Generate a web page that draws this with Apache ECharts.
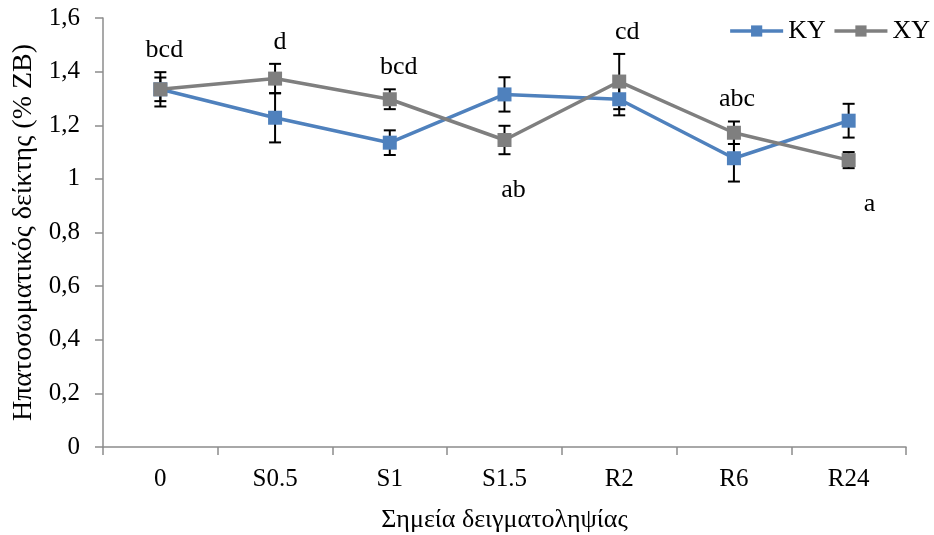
<!DOCTYPE html>
<html>
<head>
<meta charset="utf-8">
<script src="https://cdn.jsdelivr.net/npm/echarts@6.0.0/dist/echarts.min.js"></script>
<style>html,body{margin:0;padding:0;background:#fff;}#c{width:934px;height:535px;}</style>
</head>
<body>
<div id="c"></div>
<script>
const categories = ['0', 'S0.5', 'S1', 'S1.5', 'R2', 'R6', 'R24'];
const kyValues = [1.334, 1.228, 1.135, 1.315, 1.297, 1.077, 1.217];
const kyErrors = [0.044, 0.092, 0.046, 0.064, 0.060, 0.087, 0.063];
const xyValues = [1.334, 1.374, 1.297, 1.145, 1.363, 1.172, 1.070];
const xyErrors = [0.064, 0.055, 0.037, 0.053, 0.103, 0.042, 0.030];
const letters = ['bcd', 'd', 'bcd', 'ab', 'cd', 'abc', 'a'];
const letterSide = ['top', 'top', 'top', 'bottom', 'top', 'top', 'bottom'];
const yTicks = { min: 0, max: 1.6, interval: 0.2 };

const FONT = '"Liberation Serif", "DejaVu Serif", serif';
const BLUE = '#4f81bd';
const GRAY = '#7f7f7f';
const AXIS = '#8c8c8c';

function errData(vals, errs) {
  return vals.map((v, i) => [i, v, errs[i]]);
}
function errRender(params, api) {
  const x = api.value(0), v = api.value(1), e = api.value(2);
  const hi = api.coord([x, v + e]);
  const lo = api.coord([x, v - e]);
  const w = 6;
  const st = { stroke: '#000', lineWidth: 2 };
  return {
    type: 'group',
    children: [
      { type: 'line', shape: { x1: hi[0], y1: hi[1], x2: lo[0], y2: lo[1] }, style: st },
      { type: 'line', shape: { x1: hi[0] - w, y1: hi[1], x2: hi[0] + w, y2: hi[1] }, style: st },
      { type: 'line', shape: { x1: lo[0] - w, y1: lo[1], x2: lo[0] + w, y2: lo[1] }, style: st }
    ]
  };
}
// anchor for letters: highest upper cap or lowest lower cap
const letterData = letters.map((t, i) => {
  const top = Math.max(kyValues[i] + kyErrors[i], xyValues[i] + xyErrors[i]);
  const bot = Math.min(kyValues[i] - kyErrors[i], xyValues[i] - xyErrors[i]);
  return [i, letterSide[i] === 'top' ? top : bot, t, letterSide[i]];
});
const letterDx = [4, 5, 9, 9, 8, 3, 21];

const chart = echarts.init(document.getElementById('c'));
chart.setOption({
  animation: false,
  backgroundColor: '#fff',
  textStyle: { fontFamily: FONT },
  grid: { left: 103, right: 28, top: 18, bottom: 88, containLabel: false, outerBoundsMode: 'none' },
  legend: {
    right: 4, top: 13, padding: [5, 0, 5, 0],
    itemWidth: 53, itemHeight: 14, itemGap: 7,
    lineStyle: { width: 3.5 },
    textStyle: { fontFamily: FONT, fontSize: 26, color: '#000' },
    data: ['KY', 'XY']
  },
  xAxis: {
    type: 'category',
    data: categories,
    boundaryGap: true,
    name: 'Σημεία δειγματοληψίας',
    nameLocation: 'middle',
    nameGap: 60,
    nameTextStyle: { fontFamily: FONT, fontSize: 26, color: '#000' },
    axisLine: { lineStyle: { color: AXIS, width: 1.5 } },
    axisTick: { show: true, length: 8, lineStyle: { color: AXIS, width: 1.5 } },
    axisLabel: { fontFamily: FONT, fontSize: 25, color: '#000', margin: 20 },
    splitLine: { show: false }
  },
  yAxis: {
    type: 'value',
    min: yTicks.min, max: yTicks.max, interval: yTicks.interval,
    name: 'Ηπατοσωματικός δείκτης (% ZB)',
    nameLocation: 'middle',
    nameGap: 63,
    nameTextStyle: { fontFamily: FONT, fontSize: 28, color: '#000' },
    axisLine: { show: true, lineStyle: { color: AXIS, width: 1.5 } },
    axisTick: { show: true, length: 8, lineStyle: { color: AXIS, width: 1.5 } },
    axisLabel: {
      fontFamily: FONT, fontSize: 25, color: '#000', margin: 23,
      formatter: v => String(+v.toFixed(1)).replace('.', ',')
    },
    splitLine: { show: false }
  },
  series: [
    {
      name: 'KYerr', type: 'custom', renderItem: errRender,
      data: errData(kyValues, kyErrors), z: 1, silent: true
    },
    {
      name: 'XYerr', type: 'custom', renderItem: errRender,
      data: errData(xyValues, xyErrors), z: 1, silent: true
    },
    {
      name: 'KY', type: 'line', data: kyValues, z: 3,
      symbol: 'rect', symbolSize: 14, showSymbol: true,
      itemStyle: { color: BLUE },
      lineStyle: { color: BLUE, width: 3.5 }
    },
    {
      name: 'XY', type: 'line', data: xyValues, z: 4,
      symbol: 'rect', symbolSize: 14, showSymbol: true,
      itemStyle: { color: GRAY },
      lineStyle: { color: GRAY, width: 3.5 }
    },
    {
      name: 'letters', type: 'custom', silent: true, z: 5,
      data: letterData,
      renderItem: (params, api) => {
        const i = params.dataIndex;
        const d = letterData[i];
        const p = api.coord([d[0], d[1]]);
        const dy = d[3] === 'top' ? -22 : 36;
        return {
          type: 'text',
          style: {
            x: p[0] + letterDx[i], y: p[1] + dy,
            text: d[2], fill: '#000',
            font: '26px ' + FONT,
            align: 'center', verticalAlign: 'middle'
          }
        };
      }
    }
  ]
});
</script>
</body>
</html>
